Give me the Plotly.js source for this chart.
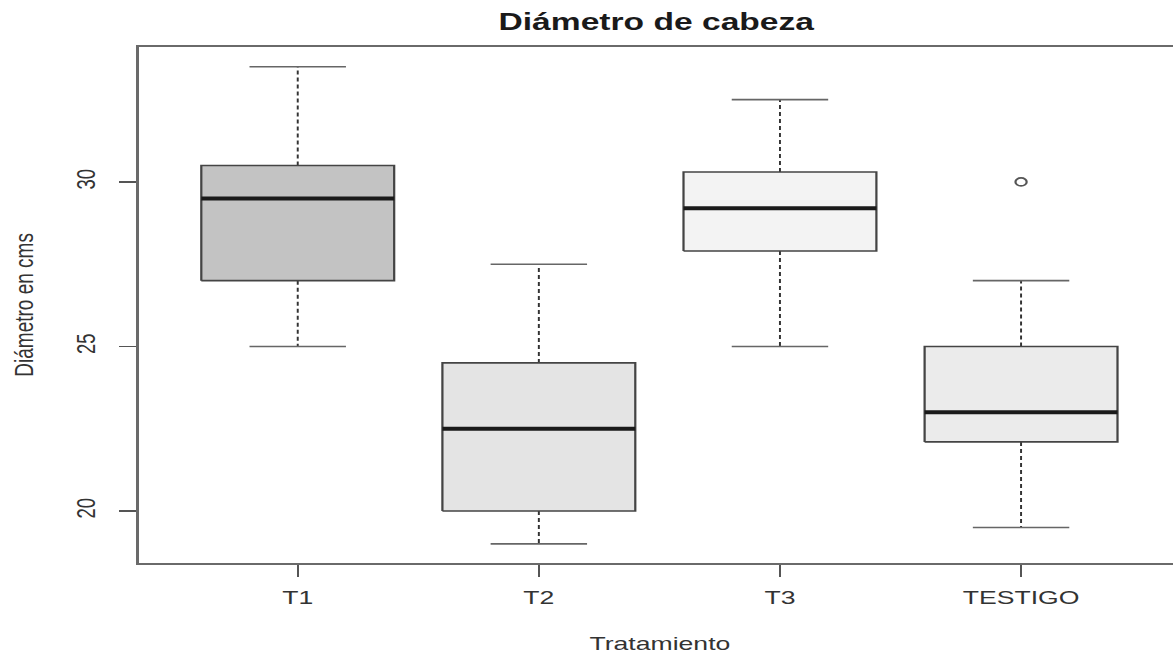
<!DOCTYPE html>
<html>
<head>
<meta charset="utf-8">
<script src="https://cdn.plot.ly/plotly-3.0.1.min.js"></script>
<style>
html, body { margin: 0; padding: 0; overflow: hidden; background: #fff; width: 1173px; height: 656px; }
#plot { width: 860px; height: 656px; transform: scaleX(1.4); transform-origin: 0 0; }
</style>
</head>
<body>
<div id="plot"></div>
<script>
// Data
const categories = ['T1', 'T2', 'T3', 'TESTIGO'];
const lowerWhisker = [25, 19, 25, 19.5];
const q1 = [27, 20, 27.9, 22.1];
const median = [29.5, 22.5, 29.2, 23];
const q3 = [30.5, 24.5, 30.3, 25];
const upperWhisker = [33.5, 27.5, 32.5, 27];
const outlierGroup = ['TESTIGO'];
const outlierValue = [30];
const tickValuesY = [20, 25, 30];

const fills = ['#c3c3c3', '#e4e4e4', '#f3f3f3', '#ebebeb'];
const boxHalf = 0.4, capHalf = 0.2;

const traces = [];
categories.forEach((cat, i) => {
  const c = i + 1;
  traces.push({
    type: 'scatter', mode: 'lines', hoverinfo: 'skip', showlegend: false,
    x: [c, c, null, c, c],
    y: [q3[i], upperWhisker[i], null, q1[i], lowerWhisker[i]],
    line: { color: '#333333', width: 1.4, dash: '4px,3px' }
  });
  traces.push({
    type: 'scatter', mode: 'lines', hoverinfo: 'skip', showlegend: false,
    x: [c - capHalf, c + capHalf, null, c - capHalf, c + capHalf],
    y: [upperWhisker[i], upperWhisker[i], null, lowerWhisker[i], lowerWhisker[i]],
    line: { color: '#666666', width: 1.6 }
  });
  traces.push({
    type: 'scatter', mode: 'lines', hoverinfo: 'skip', showlegend: false,
    x: [c - boxHalf, c + boxHalf, c + boxHalf, c - boxHalf, c - boxHalf],
    y: [q1[i], q1[i], q3[i], q3[i], q1[i]],
    fill: 'toself', fillcolor: fills[i],
    line: { color: '#444444', width: 1.6 }
  });
  traces.push({
    type: 'scatter', mode: 'lines', hoverinfo: 'skip', showlegend: false,
    x: [c - boxHalf, c + boxHalf],
    y: [median[i], median[i]],
    line: { color: '#1a1a1a', width: 4 }
  });
});
traces.push({
  type: 'scatter', mode: 'markers', showlegend: false,
  x: outlierGroup.map(g => categories.indexOf(g) + 1),
  y: outlierValue,
  marker: { symbol: 'circle-open', size: 8, color: '#555555', line: { width: 1.6, color: '#555555' } }
});

const font = 'Liberation Sans, Arial, sans-serif';
const layout = {
  width: 860, height: 656,
  margin: { l: 99.3, r: 17.1, t: 47, b: 93 },
  paper_bgcolor: '#ffffff', plot_bgcolor: '#ffffff',
  showlegend: false,
  font: { family: font, size: 19, color: '#333333' },
  title: {
    text: '<b>Diámetro de cabeza</b>',
    font: { family: font, size: 24, color: '#1a1a1a' },
    x: 0.497, xref: 'paper', xanchor: 'center',
    y: 1 - 22 / 656, yref: 'container', yanchor: 'middle'
  },
  xaxis: {
    range: [0.34, 4.66], tickvals: [1, 2, 3, 4], ticktext: categories,
    showgrid: false, zeroline: false,
    showline: true, linecolor: '#6a6a6a', linewidth: 2, mirror: true,
    ticks: 'outside', ticklen: 12, tickwidth: 1.5, tickcolor: '#555555',
    ticklabelstandoff: 4,
    tickfont: { family: font, size: 19, color: '#333333' }
  },
  yaxis: {
    range: [18.42, 34.1], tickvals: tickValuesY,
    showgrid: false, zeroline: false,
    showline: true, linecolor: '#6a6a6a', linewidth: 2, mirror: true,
    ticks: 'outside', ticklen: 12, tickwidth: 1.5, tickcolor: '#555555',
    tickangle: -90, ticklabelstandoff: 10,
    tickfont: { family: font, size: 18.5, color: '#333333' }
  },
  annotations: [
    { text: 'Tratamiento', xref: 'paper', yref: 'paper', x: 0.5, y: -80 / 516,
      xanchor: 'center', yanchor: 'middle', showarrow: false,
      font: { family: font, size: 19, color: '#333333' } },
    { text: 'Diámetro en cms', xref: 'paper', yref: 'paper', x: (17 - 99.3) / 743.6, y: 0.5,
      xanchor: 'center', yanchor: 'middle', textangle: -90, showarrow: false,
      font: { family: font, size: 19, color: '#333333' } }
  ]
};

Plotly.newPlot('plot', traces, layout, { staticPlot: true, responsive: false, displayModeBar: false });
</script>
</body>
</html>
